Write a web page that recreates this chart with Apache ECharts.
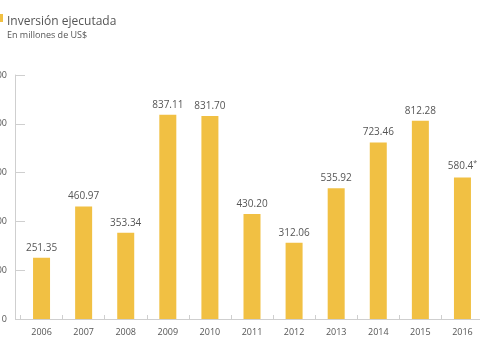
<!DOCTYPE html>
<html>
<head>
<meta charset="utf-8">
<script src="https://cdn.jsdelivr.net/npm/echarts@6/dist/echarts.min.js"></script>
<style>
html,body{margin:0;padding:0;background:#fff;}
#chart{width:480px;height:345px;}
</style>
</head>
<body>
<div id="chart"></div>
<script>
var categories = ['2006','2007','2008','2009','2010','2011','2012','2013','2014','2015','2016'];
var values = [251.35, 460.97, 353.34, 837.11, 831.70, 430.20, 312.06, 535.92, 723.46, 812.28, 580.4];
var valueLabels = ['251.35','460.97','353.34','837.11','831.70','430.20','312.06','535.92','723.46','812.28','580.4'];
var labelNotes = ['','','','','','','','','','','*'];
var yTicks = { min: 0, max: 1000, interval: 200 };
var titleText = 'Inversión ejecutada';
var subtitleText = 'En millones de US$';

var FONT = '"Open Sans", "Noto Sans", sans-serif';
var chart = echarts.init(document.getElementById('chart'), null, { renderer: 'canvas' });
chart.setOption({
  animation: false,
  backgroundColor: '#ffffff',
  title: {
    text: titleText,
    subtext: subtitleText,
    left: 2,
    top: 11,
    itemGap: 3,
    textStyle: { fontFamily: FONT, fontSize: 12, fontWeight: 'normal', color: '#555555' },
    subtextStyle: { fontFamily: FONT, fontSize: 9, color: '#555555' }
  },
  graphic: [{
    type: 'rect',
    shape: { x: 0, y: 14, width: 3, height: 8 },
    style: { fill: '#F1C043' }
  }],
  grid: { left: 20.5, right: -3.5, top: 75, bottom: 26, containLabel: false, outerBoundsMode: 'none' },
  xAxis: {
    type: 'category',
    data: categories,
    axisLine: { lineStyle: { color: '#cfcfcf', width: 1 } },
    axisTick: { show: true, inside: true, length: 4, lineStyle: { color: '#cfcfcf' } },
    axisLabel: { fontFamily: FONT, fontSize: 9, color: '#555555', margin: 9 }
  },
  yAxis: {
    type: 'value',
    offset: 5.5,
    min: yTicks.min,
    max: yTicks.max,
    interval: yTicks.interval,
    splitLine: { show: false },
    axisLine: { show: true, lineStyle: { color: '#cfcfcf', width: 1 } },
    axisTick: { show: true, inside: true, length: 10, lineStyle: { color: '#cfcfcf' } },
    axisLabel: { fontFamily: FONT, fontSize: 9, color: '#555555', margin: 8, formatter: '{value}' }
  },
  series: [{
    type: 'bar',
    data: values,
    barWidth: 17,
    itemStyle: { color: '#F1C043' },
    label: {
      show: true,
      position: 'top',
      distance: 5,
      fontFamily: FONT,
      fontSize: 10,
      color: '#555555',
      formatter: function (p) {
        var note = labelNotes[p.dataIndex];
        return valueLabels[p.dataIndex] + (note ? '{s|' + note + '}' : '');
      },
      rich: {
        s: { fontFamily: FONT, fontSize: 7, color: '#555555', verticalAlign: 'top', padding: [0, 0, 6, 0] }
      }
    }
  }]
});
</script>
</body>
</html>
